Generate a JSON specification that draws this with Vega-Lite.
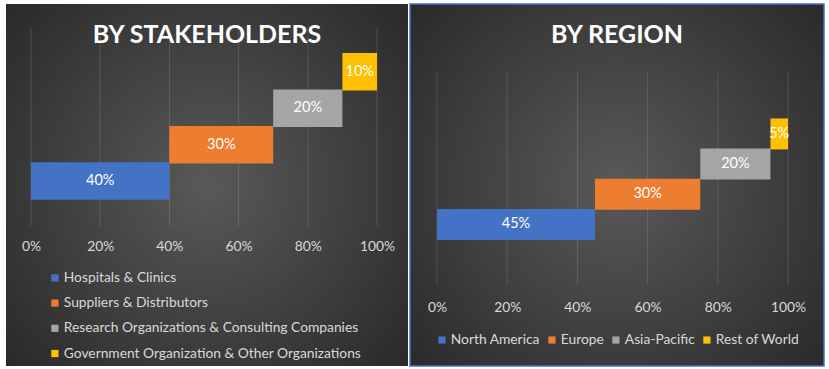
{
  "$schema": "https://vega.github.io/schema/vega-lite/v6.json",
  "background": "#ffffff",
  "padding": {"left": 6, "top": 3, "right": 0, "bottom": 0},
  "spacing": 1,
  "config": {
    "font": "Lato",
    "title": {"font": "Lato", "fontSize": 25, "fontWeight": "bold", "color": "#ffffff", "anchor": "middle", "frame": "group", "offset": -44, "baseline": "top"},
    "axis": {"labelFont": "Lato", "labelFontSize": 13.8, "labelColor": "#d9d9d9"},
    "legend": {"labelFont": "Lato", "labelFontSize": 13.8, "labelColor": "#d9d9d9", "labelLimit": 500, "symbolType": "square", "symbolSize": 52, "symbolStrokeWidth": 0, "labelOffset": 2, "padding": 0, "title": null}
  },
  "hconcat": [
    {
      "width": 402,
      "height": 362,
      "view": {"stroke": null, "fill": {"gradient": "radial", "x1": 0.5, "y1": 0.5, "r1": 0, "x2": 0.5, "y2": 0.5, "r2": 0.72, "stops": [{"offset": 0, "color": "#595959"}, {"offset": 1, "color": "#262626"}]}},
      "title": {"text": "BY STAKEHOLDERS"},
      "layer": [
        {
          "data": {"values": [{"tick": 0}, {"tick": 0.2}, {"tick": 0.4}, {"tick": 0.6}, {"tick": 0.8}, {"tick": 1}]},
          "mark": {"type": "rule", "color": "#ffffff", "opacity": 0.13, "strokeWidth": 1},
          "encoding": {
            "x": {"field": "tick", "type": "quantitative", "title": null, "scale": {"domain": [-0.07225, 1.0896], "nice": false, "zero": false},
              "axis": {"values": [0, 0.2, 0.4, 0.6, 0.8, 1], "format": ".0%", "domain": false, "ticks": false, "grid": false, "tickSize": 0, "labelPadding": 0, "labelBaseline": "middle", "offset": -120, "labelFlush": false, "labelOverlap": false}},
            "y": {"datum": -0.227, "type": "quantitative", "scale": {"domain": [-3.9333, 5.72], "nice": false, "zero": false}, "axis": null},
            "y2": {"datum": 5.213}
          }
        },
        {
          "data": {"name": "stake", "values": [
            {"category": "Hospitals & Clinics", "row": 1, "start": 0, "end": 0.4, "share": 0.4},
            {"category": "Suppliers & Distributors", "row": 2, "start": 0.4, "end": 0.7, "share": 0.3},
            {"category": "Research Organizations & Consulting Companies", "row": 3, "start": 0.7, "end": 0.9, "share": 0.2},
            {"category": "Government Organization  & Other Organizations", "row": 4, "start": 0.9, "end": 1.0, "share": 0.1}
          ]},
          "layer": [
            {
              "mark": {"type": "bar", "orient": "horizontal", "height": 37.5},
              "encoding": {
                "x": {"field": "start", "type": "quantitative", "title": null, "scale": {"domain": [-0.07225, 1.0896], "nice": false, "zero": false},
                  "axis": {"values": [0, 0.2, 0.4, 0.6, 0.8, 1], "format": ".0%", "domain": false, "ticks": false, "grid": false, "tickSize": 0, "labelPadding": 0, "labelBaseline": "middle", "offset": -120, "labelFlush": false, "labelOverlap": false}},
                "x2": {"field": "end"},
                "y": {"field": "row", "type": "quantitative", "scale": {"domain": [-3.9333, 5.72], "nice": false, "zero": false}, "axis": null},
                "color": {"field": "category", "type": "nominal",
                  "scale": {"domain": ["Hospitals & Clinics", "Suppliers & Distributors", "Research Organizations & Consulting Companies", "Government Organization  & Other Organizations"], "range": ["#4472C4", "#ED7D31", "#A5A5A5", "#FFC000"]},
                  "legend": {"orient": "none", "direction": "vertical", "legendX": 42, "legendY": 267, "rowPadding": 10.2}}
              }
            },
            {
              "transform": [{"fold": ["start", "end"], "as": ["edge", "pos"]}],
              "mark": {"type": "text", "color": "#ffffff", "fontSize": 14.5, "font": "Lato", "baseline": "middle", "align": "center"},
              "encoding": {
                "x": {"aggregate": "mean", "field": "pos", "type": "quantitative"},
                "y": {"field": "row", "type": "quantitative"},
                "text": {"field": "share", "type": "quantitative", "format": ".0%"}
              }
            }
          ]
        }
      ],
      "resolve": {"scale": {"color": "independent"}}
    },
    {
      "width": 414,
      "height": 362,
      "view": {"stroke": "#4472C4", "strokeWidth": 1.5, "fill": {"gradient": "radial", "x1": 0.5, "y1": 0.5, "r1": 0, "x2": 0.5, "y2": 0.5, "r2": 0.72, "stops": [{"offset": 0, "color": "#595959"}, {"offset": 1, "color": "#262626"}]}},
      "title": {"text": "BY REGION"},
      "layer": [
        {
          "data": {"values": [{"tick": 0}, {"tick": 0.2}, {"tick": 0.4}, {"tick": 0.6}, {"tick": 0.8}, {"tick": 1}]},
          "mark": {"type": "rule", "color": "#ffffff", "opacity": 0.13, "strokeWidth": 1},
          "encoding": {
            "x": {"field": "tick", "type": "quantitative", "title": null, "scale": {"domain": [-0.07692, 1.10256], "nice": false, "zero": false},
              "axis": {"values": [0, 0.2, 0.4, 0.6, 0.8, 1], "format": ".0%", "domain": false, "ticks": false, "grid": false, "tickSize": 0, "labelPadding": 0, "labelBaseline": "middle", "offset": -59, "labelFlush": false, "labelOverlap": false}},
            "y": {"datum": -1.016, "type": "quantitative", "scale": {"domain": [-3.532, 8.145], "nice": false, "zero": false}, "axis": null},
            "y2": {"datum": 6.048}
          }
        },
        {
          "data": {"name": "region", "values": [
            {"category": "North America", "row": 1, "start": 0, "end": 0.45, "share": 0.45},
            {"category": "Europe", "row": 2, "start": 0.45, "end": 0.75, "share": 0.3},
            {"category": "Asia-Pacific", "row": 3, "start": 0.75, "end": 0.95, "share": 0.2},
            {"category": "Rest of World", "row": 4, "start": 0.95, "end": 1.0, "share": 0.05}
          ]},
          "layer": [
            {
              "mark": {"type": "bar", "orient": "horizontal", "height": 31},
              "encoding": {
                "x": {"field": "start", "type": "quantitative", "title": null, "scale": {"domain": [-0.07692, 1.10256], "nice": false, "zero": false},
                  "axis": {"values": [0, 0.2, 0.4, 0.6, 0.8, 1], "format": ".0%", "domain": false, "ticks": false, "grid": false, "tickSize": 0, "labelPadding": 0, "labelBaseline": "middle", "offset": -59, "labelFlush": false, "labelOverlap": false}},
                "x2": {"field": "end"},
                "y": {"field": "row", "type": "quantitative", "scale": {"domain": [-3.532, 8.145], "nice": false, "zero": false}, "axis": null},
                "color": {"field": "category", "type": "nominal",
                  "scale": {"domain": ["North America", "Europe", "Asia-Pacific", "Rest of World"], "range": ["#4472C4", "#ED7D31", "#A5A5A5", "#FFC000"]},
                  "legend": {"orient": "none", "direction": "horizontal", "legendX": 25, "legendY": 329, "columnPadding": 5}}
              }
            },
            {
              "transform": [{"fold": ["start", "end"], "as": ["edge", "pos"]}],
              "mark": {"type": "text", "color": "#ffffff", "fontSize": 14.5, "font": "Lato", "baseline": "middle", "align": "center"},
              "encoding": {
                "x": {"aggregate": "mean", "field": "pos", "type": "quantitative"},
                "y": {"field": "row", "type": "quantitative"},
                "text": {"field": "share", "type": "quantitative", "format": ".0%"}
              }
            }
          ]
        }
      ]
    }
  ],
  "resolve": {"scale": {"color": "independent", "x": "independent", "y": "independent"}}
}
